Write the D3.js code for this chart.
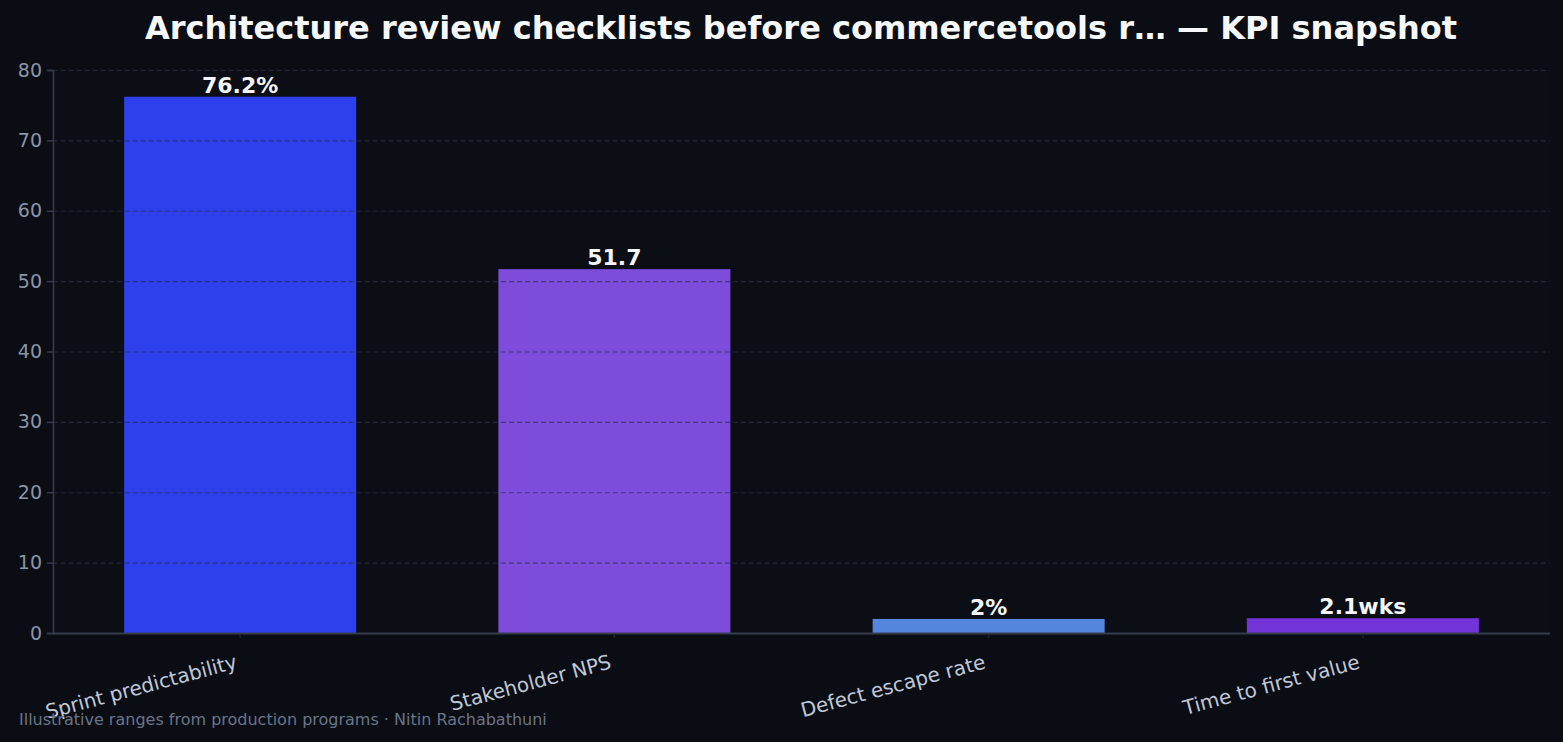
<!DOCTYPE html>
<html><head><meta charset="utf-8">
<script src="https://cdn.jsdelivr.net/npm/d3@7"></script>
<style>html,body{margin:0;padding:0;background:#0a0d14;}svg{display:block;}</style>
</head><body>
<svg id="c" width="1563" height="742"></svg>
<script>
const categories = ["Sprint predictability","Stakeholder NPS","Defect escape rate","Time to first value"];
const values = [76.2, 51.7, 2, 2.1];
const valueLabels = ["76.2%","51.7","2%","2.1wks"];
const barColors = ["#2e3fec","#7e4cdb","#5585dc","#7234d6"];
const yTicks = [0,10,20,30,40,50,60,70,80];
const titleText = "Architecture review checklists before commercetools r\u2026 \u2014 KPI snapshot";
const footerText = "Illustrative ranges from production programs \u00b7 Nitin Rachabathuni";

const W = 1563, H = 742;
const m = {left:53, right:13, top:70, bottom:109};
const svg = d3.select("#c");
svg.append("rect").attr("width",W).attr("height",H).attr("fill","#0a0d14");
const pw = W - m.left - m.right, ph = H - m.top - m.bottom;
const g = svg.append("g").attr("transform",`translate(${m.left},${m.top})`);
g.append("rect").attr("width",pw).attr("height",ph).attr("fill","#0b0e15");

const x = d3.scaleBand().domain(categories).range([0,pw]).paddingInner(0.38).paddingOuter(0.19);
const y = d3.scaleLinear().domain([0,80]).range([ph,0]);

// bars
g.selectAll("rect.bar").data(values).join("rect").attr("class","bar")
  .attr("x",(d,i)=>x(categories[i])).attr("width",x.bandwidth())
  .attr("y",d=>y(d)).attr("height",d=>y(0)-y(d)).attr("fill",(d,i)=>barColors[i]);

// grid on top
g.selectAll("line.grid").data(yTicks.filter(t=>t>0)).join("line").attr("class","grid")
  .attr("x1",0).attr("x2",pw).attr("y1",d=>y(d)+0.5).attr("y2",d=>y(d)+0.5)
  .attr("stroke","#2a3144").attr("stroke-opacity",0.7).attr("stroke-width",1.2).attr("stroke-dasharray","5,3");

// y axis
const ya = g.append("g").call(d3.axisLeft(y).tickValues(yTicks).tickSize(6).tickPadding(5));
ya.select(".domain").attr("stroke","#353d4d").attr("stroke-width",1.5);
ya.selectAll(".tick line").attr("stroke","#353d4d").attr("stroke-width",1.5);
ya.selectAll(".tick text").attr("fill","#8b95a8").style("font-family","DejaVu Sans").style("font-size","19px");

// x axis
const xa = g.append("g").attr("transform",`translate(0,${ph})`).call(d3.axisBottom(x).tickSize(5).tickPadding(4));
xa.select(".domain").attr("stroke","#353d4d").attr("stroke-width",2).attr("d",`M0,0.5H${pw}`);
xa.selectAll(".tick line").attr("stroke","#1e2330").attr("stroke-width",1.5).attr("y1",2);
xa.selectAll(".tick text").attr("fill","#c0c8d8").style("font-family","DejaVu Sans").style("font-size","20px")
  .attr("text-anchor","end").attr("dy",null).attr("y",0)
  .attr("transform","translate(-2,35) rotate(-15)");

// value labels
g.selectAll("text.val").data(values).join("text").attr("class","val")
  .attr("x",(d,i)=>x(categories[i])+x.bandwidth()/2).attr("y",d=>y(d)-4)
  .attr("text-anchor","middle").attr("fill","#f4f5f8")
  .style("font-family","DejaVu Sans").style("font-weight","bold").style("font-size","22px")
  .text((d,i)=>valueLabels[i]);

// title
svg.append("text").attr("x",801).attr("y",39).attr("text-anchor","middle").attr("fill","#f7f8fa")
  .style("font-family","DejaVu Sans").style("font-weight","bold").style("font-size","32px").text(titleText);
// footer
svg.append("text").attr("x",19).attr("y",725).attr("fill","#6b7588")
  .style("font-family","DejaVu Sans").style("font-size","16px").text(footerText);
</script>
</body></html>
